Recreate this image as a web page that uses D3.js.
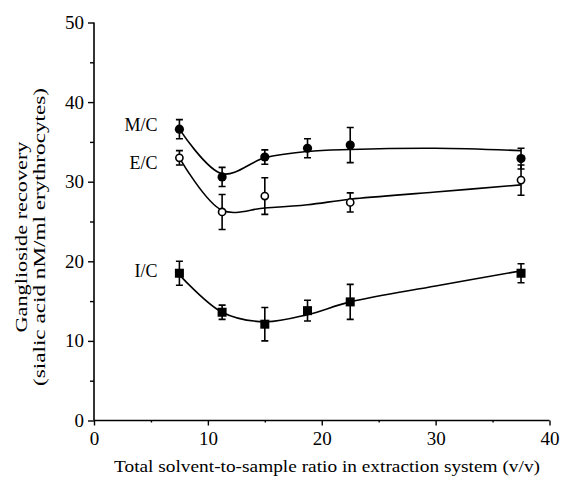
<!DOCTYPE html>
<html>
<head>
<meta charset="utf-8">
<script src="https://cdn.jsdelivr.net/npm/d3@7"></script>
<style>
  body { margin: 0; background: #fff; }
  text { font-family: "Liberation Serif", "Times New Roman", serif; fill: #000; }
</style>
</head>
<body>
<div class="chart"></div>
<script>
// measured x positions (solvent-to-sample ratio, v/v)
var ratios = [7.5, 11.25, 15, 18.75, 22.5, 37.5];

// M/C, filled circles
var mcValues = [36.6, 30.6, 33.1, 34.2, 34.6, 32.9];
var mcErrors = [1.2, 1.2, 0.9, 1.2, 2.2, 1.3];
// E/C, open circles (no point at 18.75)
var ecRatios = [7.5, 11.25, 15, 22.5, 37.5];
var ecValues = [33.0, 26.2, 28.2, 27.4, 30.2];
var ecErrors = [0.9, 2.2, 2.3, 1.2, 1.9];
// I/C, filled squares
var icValues = [18.5, 13.6, 12.1, 13.8, 14.9, 18.5];
var icErrors = [1.5, 0.9, 2.1, 1.3, 2.2, 1.2];

// fitted curves drawn through the data
var fitRatios = [7.5, 11.25, 15, 18.75, 22.5, 30, 37.5];
var mcFit = [36.6, 31.0, 33.0, 33.8, 34.05, 34.2, 33.9];
var ecFit = [33.0, 26.4, 26.7, 27.1, 27.8, 28.7, 29.6];
var icFit = [18.3, 13.6, 12.4, 13.3, 14.9, 16.9, 18.8];

var xTicks = [0, 10, 20, 30, 40];
var yTicks = [0, 10, 20, 30, 40, 50];
var xMinor = [5, 15, 25, 35];
var yMinor = [5, 15, 25, 35, 45];

var width = 563, height = 481;
var svg, x, y;

function draw() {
	svg = d3.select(".chart").append("svg")
		.attr("width", width)
		.attr("height", height);

	x = d3.scaleLinear().domain([0, 40]).range([94, 549.5]);
	y = d3.scaleLinear().domain([0, 50]).range([420.5, 22.5]);

	draw_axes();

	draw_series(fitRatios, mcFit, ratios, mcValues, mcErrors, "circle");
	draw_series(fitRatios, ecFit, ecRatios, ecValues, ecErrors, "open");
	draw_series(fitRatios, icFit, ratios, icValues, icErrors, "square");

	// series labels, left of first point
	label("M/C", mcValues[0], 1.5);
	label("E/C", ecValues[0], 11.5);
	label("I/C", icValues[0], 4);
}

function draw_axes() {
	let xAxis = svg.append("g")
		.attr("transform", "translate(0," + y(0) + ")")
		.call(d3.axisBottom(x).tickValues(xTicks).tickSize(5).tickPadding(6).tickFormat(d3.format("d")));
	svg.append("g")
		.attr("transform", "translate(0," + y(0) + ")")
		.call(d3.axisBottom(x).tickValues(xMinor).tickSize(2).tickFormat(""))
		.select(".domain").remove();

	let yAxis = svg.append("g")
		.attr("transform", "translate(" + x(0) + ",0)")
		.call(d3.axisLeft(y).tickValues(yTicks).tickSize(6).tickPadding(4).tickFormat(d3.format("d")));
	svg.append("g")
		.attr("transform", "translate(" + x(0) + ",0)")
		.call(d3.axisLeft(y).tickValues(yMinor).tickSize(4).tickFormat(""))
		.select(".domain").remove();

	svg.selectAll(".domain").attr("stroke-width", 1.6);
	svg.selectAll(".tick line").attr("stroke-width", 1.4);
	xAxis.selectAll(".domain").attr("d", "M" + x(0) + ",0H" + x(40));
	yAxis.selectAll(".domain").attr("d", "M0," + y(50) + "V" + y(0));
	svg.selectAll("g").attr("font-family", null);
	svg.selectAll(".tick text")
		.style("font-family", "'Liberation Serif', 'Times New Roman', serif")
		.attr("font-size", "19px")
		.attr("fill", "#000");

	svg.append("text")
		.attr("x", 327)
		.attr("y", 472)
		.attr("text-anchor", "middle")
		.attr("font-size", "17px")
		.attr("textLength", 426)
		.attr("lengthAdjust", "spacingAndGlyphs")
		.text("Total solvent-to-sample ratio in extraction system (v/v)");

	let yt = svg.append("g").attr("transform", "translate(27,237) rotate(-90)");
	yt.append("text")
		.attr("x", 0).attr("y", 0)
		.attr("text-anchor", "middle")
		.attr("font-size", "17px")
		.attr("textLength", 191)
		.attr("lengthAdjust", "spacingAndGlyphs")
		.text("Ganglioside recovery");
	yt.append("text")
		.attr("x", 0).attr("y", 18)
		.attr("text-anchor", "middle")
		.attr("font-size", "17px")
		.attr("textLength", 298)
		.attr("lengthAdjust", "spacingAndGlyphs")
		.text("(sialic acid nM/ml erythrocytes)");
}

function draw_series(fx, fy, px, py, pe, kind) {
	let g = svg.append("g");
	let line = d3.line()
		.x(function(d, i) { return x(fx[i]); })
		.y(function(d) { return y(d); })
		.curve(d3.curveCatmullRom.alpha(0.5));
	g.append("path")
		.attr("d", line(fy))
		.attr("fill", "none")
		.attr("stroke", "#000")
		.attr("stroke-width", 1.6);

	// error bars
	let cap = 3.5;
	py.forEach(function(v, i) {
		let cx = x(px[i]);
		g.append("path")
			.attr("d", "M" + cx + "," + y(v + pe[i]) + "V" + y(v - pe[i]) +
				"M" + (cx - cap) + "," + y(v + pe[i]) + "H" + (cx + cap) +
				"M" + (cx - cap) + "," + y(v - pe[i]) + "H" + (cx + cap))
			.attr("fill", "none")
			.attr("stroke", "#000")
			.attr("stroke-width", 1.6);
	});

	if (kind === "square") {
		g.selectAll("rect").data(py).enter().append("rect")
			.attr("x", function(d, i) { return x(px[i]) - 4.5; })
			.attr("y", function(d) { return y(d) - 4.5; })
			.attr("width", 9)
			.attr("height", 9)
			.attr("fill", "#000");
	} else {
		g.selectAll("circle").data(py).enter().append("circle")
			.attr("cx", function(d, i) { return x(px[i]); })
			.attr("cy", function(d) { return y(d); })
			.attr("r", kind === "open" ? 3.6 : 4.6)
			.attr("fill", kind === "open" ? "#fff" : "#000")
			.attr("stroke", "#000")
			.attr("stroke-width", kind === "open" ? 1.6 : 0);
	}
}

function label(s, v, dy) {
	svg.append("text")
		.attr("x", x(7.5) - 22)
		.attr("y", y(v) + dy)
		.attr("text-anchor", "end")
		.attr("font-size", "18px")
		.text(s);
}

draw();
</script>
</body>
</html>
